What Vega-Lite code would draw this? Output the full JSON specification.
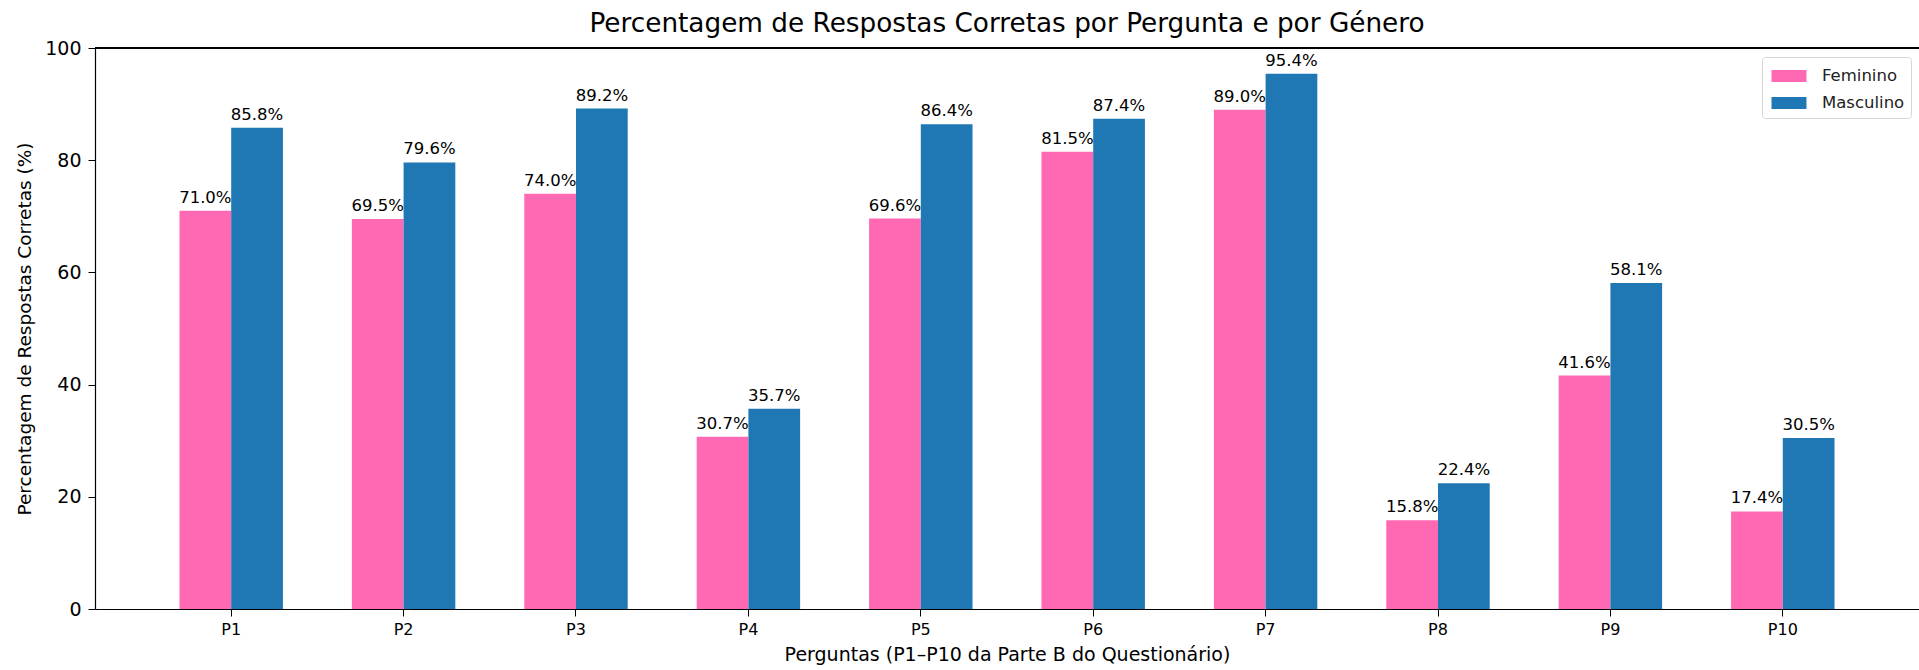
{
  "$schema": "https://vega.github.io/schema/vega-lite/v6.json",
  "autosize": "none",
  "padding": {"left": 95, "top": 48, "right": 0, "bottom": 61},
  "width": 1824,
  "height": 561,
  "background": "white",
  "config": {
    "font": "DejaVu Sans",
    "view": {"stroke": null},
    "axis": {"labelColor": "#000", "titleColor": "#000", "domainColor": "#000", "tickColor": "#000", "labelFont": "DejaVu Sans", "titleFont": "DejaVu Sans", "grid": false}
  },
  "title": {"text": "Percentagem de Respostas Corretas por Pergunta e por Género", "fontSize": 26.3, "fontWeight": "normal", "color": "#000", "offset": 2, "anchor": "middle", "frame": "group"},
  "data": {"values": [
    {"q": "P1", "g": "Feminino", "v": 71.0, "label": "71.0%"}, {"q": "P1", "g": "Masculino", "v": 85.8, "label": "85.8%"},
    {"q": "P2", "g": "Feminino", "v": 69.5, "label": "69.5%"}, {"q": "P2", "g": "Masculino", "v": 79.6, "label": "79.6%"},
    {"q": "P3", "g": "Feminino", "v": 74.0, "label": "74.0%"}, {"q": "P3", "g": "Masculino", "v": 89.2, "label": "89.2%"},
    {"q": "P4", "g": "Feminino", "v": 30.7, "label": "30.7%"}, {"q": "P4", "g": "Masculino", "v": 35.7, "label": "35.7%"},
    {"q": "P5", "g": "Feminino", "v": 69.6, "label": "69.6%"}, {"q": "P5", "g": "Masculino", "v": 86.4, "label": "86.4%"},
    {"q": "P6", "g": "Feminino", "v": 81.5, "label": "81.5%"}, {"q": "P6", "g": "Masculino", "v": 87.4, "label": "87.4%"},
    {"q": "P7", "g": "Feminino", "v": 89.0, "label": "89.0%"}, {"q": "P7", "g": "Masculino", "v": 95.4, "label": "95.4%"},
    {"q": "P8", "g": "Feminino", "v": 15.8, "label": "15.8%"}, {"q": "P8", "g": "Masculino", "v": 22.4, "label": "22.4%"},
    {"q": "P9", "g": "Feminino", "v": 41.6, "label": "41.6%"}, {"q": "P9", "g": "Masculino", "v": 58.1, "label": "58.1%"},
    {"q": "P10", "g": "Feminino", "v": 17.4, "label": "17.4%"}, {"q": "P10", "g": "Masculino", "v": 30.5, "label": "30.5%"}
  ]},
  "encoding": {
    "x": {"field": "q", "type": "nominal", "sort": null,
      "scale": {"paddingInner": 0.4, "paddingOuter": 0.49},
      "axis": {"title": "Perguntas (P1–P10 da Parte B do Questionário)", "labelAngle": 0, "labelFontSize": 16, "titleFontSize": 19, "titleFontWeight": "normal", "tickSize": 7, "labelPadding": 5, "titlePadding": 8, "domainWidth": 1.2}},
    "xOffset": {"field": "g", "type": "nominal", "sort": ["Feminino", "Masculino"]},
    "y": {"field": "v", "type": "quantitative",
      "scale": {"domain": [0, 100], "nice": false},
      "axis": {"title": "Percentagem de Respostas Corretas (%)", "values": [0, 20, 40, 60, 80, 100], "labelFontSize": 19, "titleFontSize": 18.5, "titleFontWeight": "normal", "tickSize": 7, "labelPadding": 7, "titlePadding": 10, "domainWidth": 1.2}}
  },
  "layer": [
    {
      "mark": {"type": "bar"},
      "encoding": {
        "color": {"field": "g", "type": "nominal",
          "scale": {"domain": ["Feminino", "Masculino"], "range": ["#ff69b4", "#1f77b4"]},
          "legend": {"title": null, "orient": "none", "legendX": 1667, "legendY": 9, "labelFontSize": 16.5, "labelColor": "#222",
            "symbolType": "M-0.73,-0.46H1.96V0.46H-0.73Z", "symbolSize": 676, "symbolStrokeWidth": 0,
            "rowPadding": 5, "labelOffset": 28, "padding": 6,
            "fillColor": "white", "strokeColor": "#d6d6d6", "cornerRadius": 3}}
      }
    },
    {
      "mark": {"type": "text", "baseline": "alphabetic", "dy": -8, "fontSize": 16.5, "color": "#000"},
      "encoding": {"text": {"field": "label", "type": "nominal"}}
    },
    {
      "mark": {"type": "rule", "color": "#000", "strokeWidth": 1.2},
      "encoding": {"y": {"datum": 100}, "x": null, "xOffset": null}
    }
  ]
}
